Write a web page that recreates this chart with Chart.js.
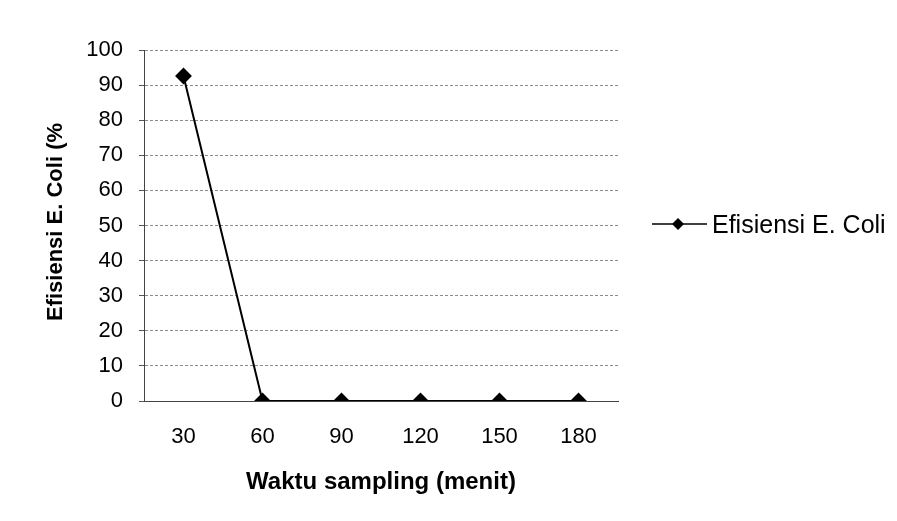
<!DOCTYPE html>
<html>
<head>
<meta charset="utf-8">
<script src="https://cdn.jsdelivr.net/npm/chart.js@4"></script>
<style>
html,body{margin:0;padding:0;background:#fff;}
#wrap{width:897px;height:521px;}
</style>
</head>
<body>
<div id="wrap"><canvas id="c" width="897" height="521"></canvas></div>
<script>
const categories = ["30", "60", "90", "120", "150", "180"];
const efisiensi = [92.6, 0, 0, 0, 0, 0];
const seriesName = "Efisiensi E. Coli";
const xTitle = "Waktu sampling (menit)";
const yTitle = "Efisiensi E. Coli (%";
const FONT = "'Liberation Sans', Arial, sans-serif";

const titlesAndLegend = {
  id: 'titlesAndLegend',
  afterDraw(chart) {
    const ctx = chart.ctx;
    const ca = chart.chartArea;
    ctx.save();
    // Y title
    ctx.fillStyle = '#000';
    ctx.font = "bold 22px " + FONT;
    ctx.textAlign = 'center';
    ctx.textBaseline = 'alphabetic';
    ctx.translate(62, 222);
    ctx.rotate(-Math.PI / 2);
    ctx.fillText(yTitle, 0, 0);
    ctx.restore();
    // X title
    ctx.save();
    ctx.fillStyle = '#000';
    ctx.font = "bold 24px " + FONT;
    ctx.textAlign = 'center';
    ctx.textBaseline = 'alphabetic';
    ctx.fillText(xTitle, (ca.left + ca.right) / 2, 489);
    ctx.restore();
    // Legend
    ctx.save();
    const ly = 224;
    ctx.strokeStyle = '#000';
    ctx.lineWidth = 1.5;
    ctx.beginPath();
    ctx.moveTo(652, ly);
    ctx.lineTo(707, ly);
    ctx.stroke();
    ctx.fillStyle = '#000';
    ctx.beginPath();
    ctx.moveTo(678, ly - 6);
    ctx.lineTo(684, ly);
    ctx.lineTo(678, ly + 6);
    ctx.lineTo(672, ly);
    ctx.closePath();
    ctx.fill();
    ctx.font = "25px " + FONT;
    ctx.textAlign = 'left';
    ctx.textBaseline = 'alphabetic';
    ctx.fillText(seriesName, 712, 233);
    ctx.restore();
  }
};

new Chart(document.getElementById('c'), {
  type: 'line',
  data: {
    labels: categories,
    datasets: [{
      label: seriesName,
      data: efisiensi,
      borderColor: '#000',
      backgroundColor: '#000',
      borderWidth: 2,
      pointStyle: 'rectRot',
      pointRadius: 7,
      pointHoverRadius: 7,
      tension: 0
    }]
  },
  options: {
    responsive: false,
    animation: false,
    devicePixelRatio: 1,
    layout: { padding: { top: 50, right: 279, left: 0, bottom: 0 } },
    plugins: { legend: { display: false }, tooltip: { enabled: false } },
    scales: {
      x: {
        offset: true,
        grid: { display: false, drawTicks: false },
        border: { display: true, color: '#444', dash: [3, 2], width: 1 },
        ticks: { color: '#000', font: { family: FONT, size: 22 }, padding: 23, maxRotation: 0 },
        afterFit(scale) { scale.height = 120; }
      },
      y: {
        min: 0, max: 100,
        grid: { color: '#8a8a8a', lineWidth: 1, tickLength: 5, tickColor: '#555' },
        border: { display: true, color: '#444', dash: [3, 2], width: 1 },
        ticks: { stepSize: 10, color: '#000', font: { family: FONT, size: 22 }, padding: 16 },
        afterFit(scale) { scale.width = 144; }
      }
    }
  },
  plugins: [titlesAndLegend]
});
</script>
</body>
</html>
